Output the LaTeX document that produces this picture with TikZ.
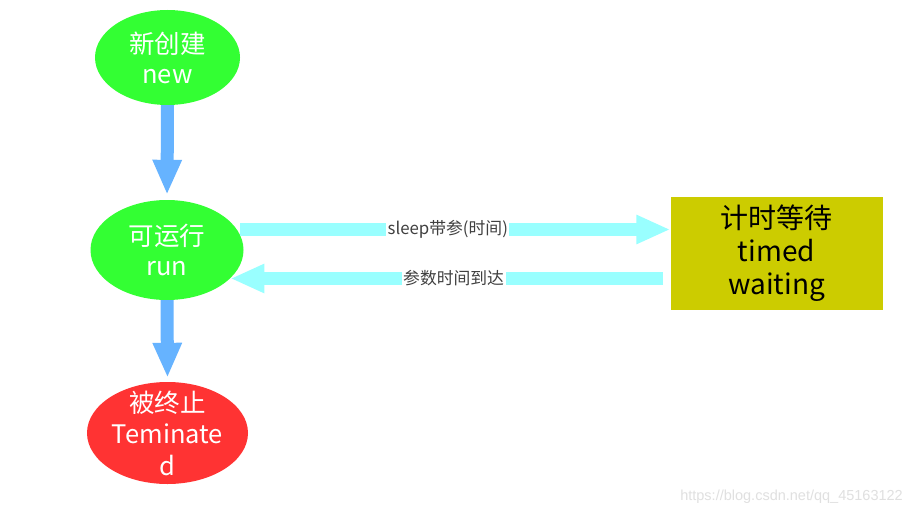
\documentclass[tikz,border=0pt]{standalone}
\usepackage{fontspec}
\setmainfont{Noto Sans CJK SC}
\usetikzlibrary{arrows.meta,shapes.geometric}
\definecolor{stgreen}{HTML}{33FF33}
\definecolor{stred}{HTML}{FF3333}
\definecolor{stblue}{HTML}{66B3FF}
\definecolor{stcyan}{HTML}{99FFFF}
\definecolor{stbox}{HTML}{CCCC00}
\definecolor{lbl}{HTML}{404040}
\tikzset{
  stateell/.style={ellipse, inner sep=0pt, draw=none},
  stlabel/.style={text=white, align=center, inner sep=0pt},
  bluearrow/.style={draw=stblue, line width=13pt, -{Triangle[width=27pt,length=35pt]}},
  cyanarrow/.style={draw=stcyan, line width=13pt, -{Triangle[width=27pt,length=34pt]}},
  arrlabel/.style={fill=white, text=lbl, inner sep=1.5pt, font=\fontsize{16.8}{19}\selectfont},
}
\begin{document}
\begin{tikzpicture}[x=1pt,y=-1pt]
\useasboundingbox (0,0) rectangle (912,516);
\fill[white] (0,0) rectangle (912,516);

\node[stateell, fill=stgreen, minimum width=145pt, minimum height=95pt,
  label={[stlabel, font=\fontsize{25.5}{30}\selectfont]center:新创建\\new}] (new) at (167.5,57.5) {};
\node[stateell, fill=stgreen, minimum width=153pt, minimum height=100pt,
  label={[stlabel, font=\fontsize{25.5}{30}\selectfont]center:可运行\\run}] (run) at (167,250) {};
\node[stateell, fill=stred, minimum width=161pt, minimum height=102pt,
  label={[stlabel, font=\fontsize{25.5}{31.5}\selectfont]center:被终止\\Teminate\\d}] (term) at (167.5,433) {};
\node[fill=stbox, minimum width=212pt, minimum height=113pt, inner sep=0pt,
  align=center, font=\fontsize{28}{33}\selectfont] (wait) at (776.5,253.5) {计时等待\\timed\\waiting};

\draw[bluearrow, shorten >=5pt] (new.south) -- (run.north);
\draw[bluearrow, shorten >=4pt] (run.south) -- (term.north);

\coordinate (t0) at (240,229.5);
\coordinate (b0) at (663,278.5);
\draw[cyanarrow] (t0) -- (t0 -| wait.west) node[arrlabel, pos=0.483] {sleep带参(时间)};
\draw[cyanarrow] (b0) -- (b0 -| run.-24) node[arrlabel, pos=0.484] {参数时间到达};

\node[text=black!12, font=\fontsize{14.5}{16}\selectfont\fontspec{Liberation Sans}, anchor=east, inner sep=0pt] (wm) at (903,497) {https://blog.csdn.net/qq\_45163122};
\end{tikzpicture}
\end{document}
